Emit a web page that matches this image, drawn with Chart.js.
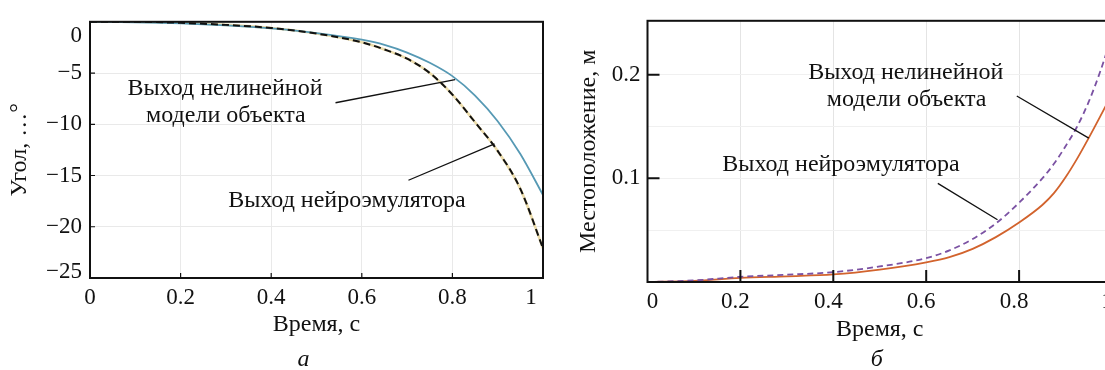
<!DOCTYPE html>
<html>
<head>
<meta charset="utf-8">
<script src="https://cdn.jsdelivr.net/npm/chart.js@4.4.0/dist/chart.umd.min.js"></script>
<style>
  html, body { margin: 0; padding: 0; background: #fff; width: 1105px; height: 370px; overflow: hidden; }
  .panel { position: absolute; top: 0; height: 370px; }
  #left { left: 0; width: 560px; }
  #right { left: 545px; width: 590px; }
</style>
</head>
<body>
<div class="panel" id="left"><canvas id="angleChart" width="560" height="370"></canvas></div>
<div class="panel" id="right"><canvas id="posChart" width="590" height="370"></canvas></div>
<script>
// panel а — angle vs time
const angleTime  = [0, 0.1, 0.2, 0.3, 0.4, 0.5, 0.6, 0.65, 0.7, 0.75, 0.8, 0.85, 0.9, 0.95, 1.0];
const angleModel = [0, -0.05, -0.15, -0.35, -0.65, -1.1, -1.75, -2.25, -3.0, -4.0, -5.3, -7.2, -9.7, -12.9, -16.9];
const angleNeuro = [0, 0, -0.1, -0.3, -0.6, -1.15, -2.0, -2.7, -3.6, -5.0, -7.1, -9.8, -12.6, -16.3, -22.1];
const angleXVals = [0, 0.2, 0.4, 0.6, 0.8, 1];
const angleXLabels = ['0', '0.2', '0.4', '0.6', '0.8', '1'];
const angleYVals = [-25, -20, -15, -10, -5, 0];
const angleYLabels = ['−25', '−20', '−15', '−10', '−5', '0'];
const angleNotes = [
  { text: 'Выход нелинейной', x: 0.298, y: -6.49 },
  { text: 'модели объекта', x: 0.300, y: -9.16 },
  { text: 'Выход нейроэмулятора', x: 0.567, y: -17.47 }
];
const angleLeaders = [
  [0.542, -7.90, 0.806, -5.64],
  [0.703, -15.46, 0.893, -11.92]
];

// panel б — position vs time
const posTime  = [0, 0.1, 0.2, 0.3, 0.4, 0.5, 0.6, 0.65, 0.7, 0.75, 0.8, 0.85, 0.875, 0.9, 0.925, 0.95, 0.975, 1.0];
const posModel = [0, 0.001, 0.004, 0.0055, 0.0073, 0.012, 0.019, 0.024, 0.032, 0.0433, 0.0574, 0.0743, 0.0857, 0.101, 0.119, 0.139, 0.160, 0.1815];
const posNeuro = [0, 0.0015, 0.005, 0.007, 0.0095, 0.015, 0.023, 0.0305, 0.0415, 0.0565, 0.0765, 0.100, 0.114, 0.131, 0.150, 0.174, 0.2035, 0.238];
const posXVals = [0, 0.2, 0.4, 0.6, 0.8, 1];
const posXLabels = ['0', '0.2', '0.4', '0.6', '0.8', '1'];
const posYVals = [0.1, 0.2];
const posYLabels = ['0.1', '0.2'];
const posNotes = [
  { text: 'Выход нелинейной', x: 0.556, y: 0.2016 },
  { text: 'модели объекта', x: 0.558, y: 0.1762 },
  { text: 'Выход нейроэмулятора', x: 0.4166, y: 0.1128 }
];
const posLeaders = [
  [0.795, 0.1794, 0.950, 0.1388],
  [0.625, 0.0952, 0.7535, 0.060]
];

const FONT = "'Liberation Serif', 'Times New Roman', serif";
Chart.defaults.font.family = FONT;
Chart.defaults.font.size = 24;
Chart.defaults.color = '#111';

const pts = (xs, ys) => xs.map((x, i) => ({ x, y: ys[i] }));
const tickText = (vals, labels, hide = []) => v => {
  if (hide.some(h => Math.abs(h - v) < 1e-6)) return '';
  const i = vals.findIndex(t => Math.abs(t - v) < 1e-6);
  return i < 0 ? '' : labels[i];
};

// frame, inward ticks, leader lines, notes, shifted labels, panel letter
function makeDecor(cfg) {
  return {
    id: 'decor',
    afterDraw(chart) {
      const { ctx, chartArea: a, scales: { x, y } } = chart;
      ctx.save();
      ctx.strokeStyle = '#111';
      ctx.lineWidth = cfg.tickWidth;
      ctx.beginPath();
      cfg.xTicks.forEach(v => {
        const px = x.getPixelForValue(v);
        ctx.moveTo(px, a.bottom); ctx.lineTo(px, a.bottom - cfg.tickLen);
      });
      cfg.yTicks.forEach(v => {
        const py = y.getPixelForValue(v);
        ctx.moveTo(a.left, py); ctx.lineTo(a.left + cfg.tickLen, py);
      });
      ctx.stroke();

      ctx.lineWidth = 2;
      ctx.strokeRect(a.left, a.top, a.right - a.left, a.bottom - a.top);

      ctx.lineWidth = 1.3;
      ctx.beginPath();
      cfg.leaders.forEach(([x0, y0, x1, y1]) => {
        ctx.moveTo(x.getPixelForValue(x0), y.getPixelForValue(y0));
        ctx.lineTo(x.getPixelForValue(x1), y.getPixelForValue(y1));
      });
      ctx.stroke();

      ctx.fillStyle = '#111';
      ctx.font = '24px ' + FONT;
      ctx.textAlign = 'center';
      ctx.textBaseline = 'middle';
      cfg.notes.forEach(n => ctx.fillText(n.text, x.getPixelForValue(n.x), y.getPixelForValue(n.y)));

      ctx.font = '23px ' + FONT;
      cfg.moved.forEach(m => {
        if (m.axis === 'x') {
          ctx.textAlign = 'center';
          ctx.fillText(m.text, x.getPixelForValue(m.value) + m.dx, a.bottom + cfg.xGap);
        } else {
          ctx.textAlign = 'right';
          ctx.fillText(m.text, a.left - cfg.yGap, y.getPixelForValue(m.value) + m.dy);
        }
      });

      ctx.font = 'italic 24px ' + FONT;
      ctx.textAlign = 'center';
      ctx.fillText(cfg.letter, (a.left + a.right) / 2 + cfg.letterDx, 360);
      ctx.restore();
    }
  };
}

const line = (data, color, width, dash) => ({
  data, borderColor: color, borderWidth: width, borderDash: dash || [],
  pointRadius: 0, fill: false, cubicInterpolationMode: 'monotone'
});

const tickFont = { size: 23 };

new Chart(document.getElementById('angleChart'), {
  type: 'line',
  data: {
    datasets: [
      line(pts(angleTime, angleNeuro), '#111', 2, [7, 4]),
      line(pts(angleTime, angleModel), '#5699b4', 1.8),
      line(pts(angleTime, angleNeuro), '#ecdcaa', 2.6)
    ]
  },
  options: {
    responsive: false,
    animation: false,
    devicePixelRatio: 1,
    layout: { padding: { top: 13, right: 17, bottom: 0, left: 0 } },
    plugins: { legend: { display: false }, tooltip: { enabled: false } },
    scales: {
      x: {
        type: 'linear', min: 0, max: 1,
        afterFit: s => { s.height = 92; },
        grid: { color: '#e9e9e9', drawTicks: false },
        border: { display: false },
        ticks: { stepSize: 0.2, padding: 6.5, maxRotation: 0, autoSkip: false, font: tickFont,
                 callback: tickText(angleXVals, angleXLabels, [1]) },
        title: { display: true, text: 'Время, с', padding: { top: 0, bottom: 31 } }
      },
      y: {
        type: 'linear', min: -25, max: 0,
        afterFit: s => { s.width = 90; },
        grid: { color: '#e9e9e9', drawTicks: false },
        border: { display: false },
        ticks: { stepSize: 5, padding: 8, font: tickFont,
                 callback: tickText(angleYVals, angleYLabels, [0, -25]) },
        title: { display: true, text: 'Угол, …°', padding: { top: 5, bottom: 0 } }
      }
    }
  },
  plugins: [makeDecor({
    tickLen: 5, tickWidth: 1.2,
    xTicks: [0.2, 0.4, 0.6, 0.8], yTicks: [-5, -10, -15, -20],
    leaders: angleLeaders, notes: angleNotes,
    moved: [
      { axis: 'y', value: 0, text: '0', dy: 14 },
      { axis: 'y', value: -25, text: '−25', dy: -6 },
      { axis: 'x', value: 1, text: '1', dx: -12 }
    ],
    xGap: 20.3, yGap: 8, letter: 'а', letterDx: -13
  })]
});

new Chart(document.getElementById('posChart'), {
  type: 'line',
  data: {
    datasets: [
      line(pts(posTime, posNeuro), '#7b52a3', 1.8, [6, 4]),
      line(pts(posTime, posModel), '#d2632d', 1.8)
    ]
  },
  options: {
    responsive: false,
    animation: false,
    devicePixelRatio: 1,
    layout: { padding: { top: 17, right: 23, bottom: 0, left: 0 } },
    plugins: { legend: { display: false }, tooltip: { enabled: false } },
    scales: {
      x: {
        type: 'linear', min: 0, max: 1,
        afterFit: s => { s.height = 88; },
        grid: { color: '#e4e4e4', drawTicks: false },
        border: { display: false },
        ticks: { stepSize: 0.2, padding: 6.5, labelOffset: -5, maxRotation: 0, autoSkip: false, font: tickFont,
                 callback: tickText(posXVals, posXLabels, [0]) },
        title: { display: true, text: 'Время, с', padding: { top: 0, bottom: 26 } }
      },
      y: {
        type: 'linear', min: 0, max: 0.252,
        afterFit: s => { s.width = 102.5; },
        grid: { color: '#f0f0f0', drawTicks: false },
        border: { display: false },
        ticks: { stepSize: 0.05, padding: 7, font: tickFont, callback: tickText(posYVals, posYLabels) },
        title: { display: true, text: 'Местоположение, м', padding: { top: 29, bottom: 0 } }
      }
    }
  },
  plugins: [makeDecor({
    tickLen: 12, tickWidth: 2,
    xTicks: [0.2, 0.4, 0.6, 0.8], yTicks: [0.1, 0.2],
    leaders: posLeaders, notes: posNotes,
    moved: [{ axis: 'x', value: 0, text: '0', dx: 5 }],
    xGap: 20.3, yGap: 7, letter: 'б', letterDx: -3
  })]
});
</script>
</body>
</html>
